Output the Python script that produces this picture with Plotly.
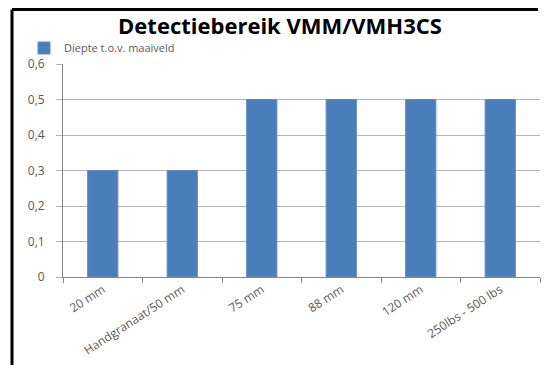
import plotly.graph_objects as go

# Data
categories = ["20 mm", "Handgranaat/50 mm", "75 mm", "88 mm", "120 mm", "250lbs - 500 lbs"]
diepte = [0.3, 0.3, 0.5, 0.5, 0.5, 0.5]
y_tickvals = [0, 0.1, 0.2, 0.3, 0.4, 0.5, 0.6]
y_ticktext = ["0", "0,1", "0,2", "0,3", "0,4", "0,5", "0,6"]

# page body has an 8px margin, so keep the figure inside the window
W, H = 538, 358
L, R, T, B = 55, 6, 56, 89
pw, ph = W - L - R, H - T - B

bar_color = "#4a7ebb"
text_gray = "#595959"
grid_gray = "#b3b3b3"

fig = go.Figure()
fig.add_trace(
    go.Bar(
        x=categories,
        y=diepte,
        name="Diepte t.o.v. maaiveld",
        marker=dict(color=bar_color, line=dict(color="#5b8cc7", width=1)),
    )
)

# black frame: only the left and top edges show in the reference
frame_left = (4 - L) / pw
frame_top = (T + ph - 1.5) / ph
fig.add_shape(type="line", xref="paper", yref="paper",
              x0=frame_left, x1=frame_left, y0=-(B - 1) / ph, y1=frame_top,
              line=dict(color="black", width=3), layer="below")
fig.add_shape(type="line", xref="paper", yref="paper",
              x0=frame_left, x1=(530 - L) / pw, y0=frame_top, y1=frame_top,
              line=dict(color="black", width=3), layer="below")

fig.update_layout(
    width=W,
    height=H,
    margin=dict(l=L, r=R, t=T, b=B),
    title=dict(
        text="<b>Detectiebereik VMM/VMH3CS</b>",
        x=(272 - L) / pw, xanchor="center", xref="paper",
        y=1 - 18 / H, yanchor="middle",
        font=dict(family="Open Sans", size=22, color="black"),
    ),
    font=dict(family="Open Sans", size=11, color=text_gray),
    plot_bgcolor="rgba(0,0,0,0)",
    paper_bgcolor="white",
    bargap=0.62,
    showlegend=True,
    legend=dict(
        x=(16 - L) / pw, xanchor="left",
        y=(T + ph - 40) / ph, yanchor="middle",
        orientation="h",
        font=dict(size=11, color=text_gray),
        itemwidth=30,
        bgcolor="rgba(0,0,0,0)",
    ),
    xaxis=dict(
        showline=True,
        linecolor="#868686",
        ticks="outside",
        tickson="boundaries",
        ticklen=5,
        tickcolor="#868686",
        tickangle=-33,
        tickfont=dict(size=12, color=text_gray),
        showgrid=False,
    ),
    yaxis=dict(
        range=[0, 0.6],
        tickvals=y_tickvals,
        ticktext=y_ticktext,
        showline=True,
        linecolor="#868686",
        ticks="outside",
        ticklen=6,
        tickcolor=grid_gray,
        showgrid=True,
        gridcolor=grid_gray,
        gridwidth=1,
        zeroline=False,
        tickfont=dict(size=12, color=text_gray),
        ticklabelstandoff=9,
    ),
)

fig.write_html("out.html")
